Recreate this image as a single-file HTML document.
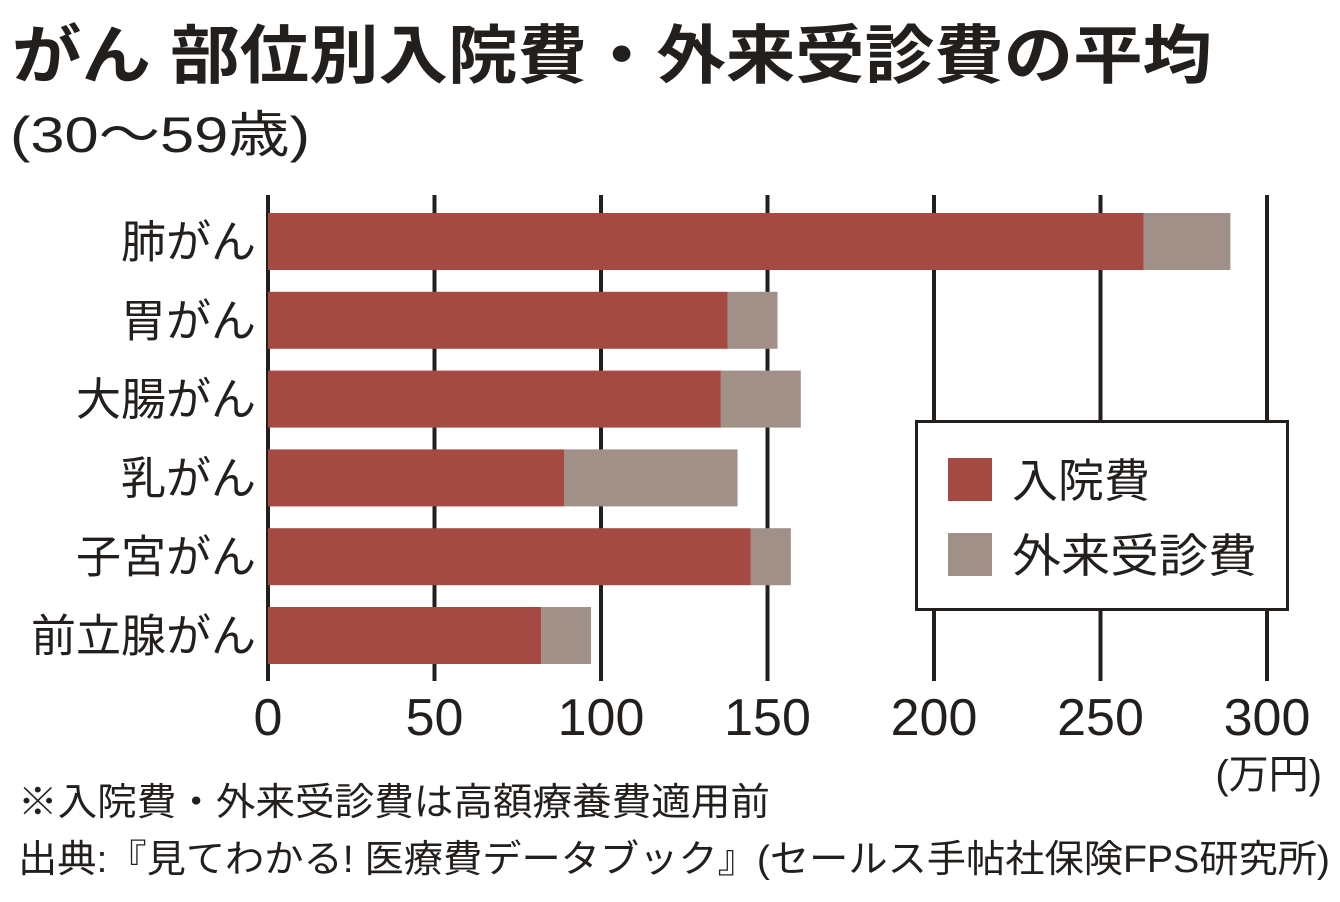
<!DOCTYPE html>
<html><head><meta charset="utf-8"><style>
body{margin:0;background:#fff;}
svg{display:block;font-family:"Liberation Sans","Noto Sans CJK JP",sans-serif;}
</style></head><body>
<svg width="1340" height="902" viewBox="0 0 1340 902">
<text x="12" y="78" font-size="64" font-weight="bold" fill="#231f1c" textLength="1200" lengthAdjust="spacingAndGlyphs">がん 部位別入院費・外来受診費の平均</text>
<text x="10" y="152" font-size="50" fill="#231f1c" textLength="300" lengthAdjust="spacingAndGlyphs">(30～59歳)</text>
<g id="grid"></g>
<g id="bars"></g>
<g id="labels"></g>
<g>
<rect x="916.5" y="421.5" width="371" height="188" fill="#fff" stroke="#231f1c" stroke-width="3"/>
<rect x="948" y="458" width="44" height="43" fill="#a54a43"/>
<text x="1012" y="497" font-size="46" fill="#231f1c">入院費</text>
<rect x="948" y="533" width="44" height="43" fill="#a09088"/>
<text x="1012" y="572" font-size="46" fill="#231f1c" textLength="245" lengthAdjust="spacingAndGlyphs">外来受診費</text>
</g>
<text x="1322" y="788" font-size="40" fill="#231f1c" text-anchor="end">(万円)</text>
<text x="18" y="815" font-size="38" fill="#231f1c" textLength="752" lengthAdjust="spacingAndGlyphs">※入院費・外来受診費は高額療養費適用前</text>
<text x="18" y="872" font-size="38" fill="#231f1c" textLength="1312" lengthAdjust="spacingAndGlyphs">出典:『見てわかる! 医療費データブック』(セールス手帖社保険FPS研究所)</text>
</svg>
<script>
const categories=["肺がん","胃がん","大腸がん","乳がん","子宮がん","前立腺がん"];
const inpatient=[263,138,136,89,145,82];
const outpatient=[26,15,24,52,12,15];
const ticks=[0,50,100,150,200,250,300];
const NS="http://www.w3.org/2000/svg";
const x0=268,x1=1267,vmax=300;
const X=v=>x0+(x1-x0)*v/vmax;
const barTop=i=>213+i*78.8;
const barH=57;
function mk(t,a,p){const e=document.createElementNS(NS,t);for(const k in a)e.setAttribute(k,a[k]);p.appendChild(e);return e;}
const grid=document.getElementById('grid'),bars=document.getElementById('bars'),labels=document.getElementById('labels');
ticks.forEach((t,i)=>{
 const l=mk('line',{x1:X(t),x2:X(t),y1:i==0?195:195,y2:681,stroke:'#231f1c','stroke-width':4},grid);
 
 
 const tx=mk('text',{x:X(t),y:735,'font-size':52,fill:'#231f1c','text-anchor':'middle'},grid);
 tx.textContent=t;
 
 
});
categories.forEach((c,i)=>{
 const y=barTop(i);
 const r1=mk('rect',{x:X(0),y:y,width:X(inpatient[i])-X(0),height:barH,fill:'#a54a43'},bars);
 
 
 const r2=mk('rect',{x:X(inpatient[i]),y:y,width:X(inpatient[i]+outpatient[i])-X(inpatient[i]),height:barH,fill:'#a09088'},bars);
 
 
 const t=mk('text',{x:256,y:y+barH/2+16,'font-size':45,fill:'#231f1c','text-anchor':'end'},labels);
 t.textContent=c;
 
 
});
</script>
</body></html>
